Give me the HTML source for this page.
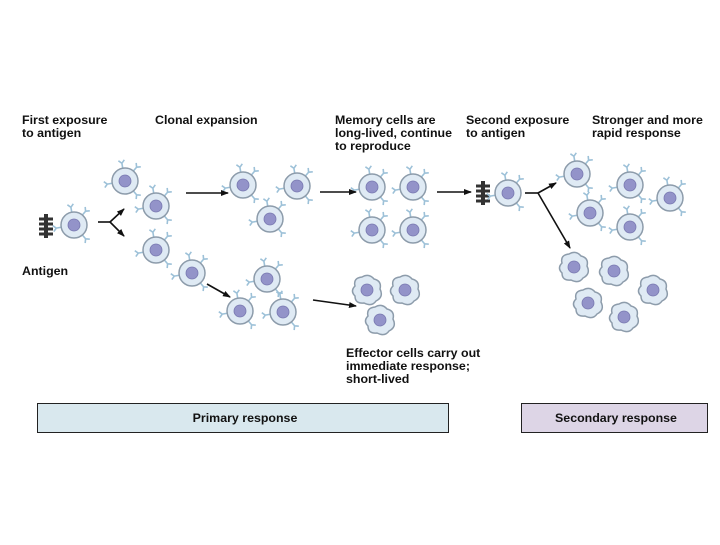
<!DOCTYPE html><html><head><style>body{margin:0;background:#fff}svg text{font-family:"Liberation Sans",sans-serif;font-weight:bold;font-size:12.4px;fill:#111}</style></head><body>
<svg width="720" height="540" xmlns="http://www.w3.org/2000/svg">
<defs>
<g id="y"><path d="M0,0 L0,-5 M0,-5 L-3,-8 M0,-5 L3,-8" stroke="#9dc1d8" stroke-width="1.6" fill="none"/></g>
<g id="c">
<use href="#y" transform="rotate(40) translate(0,-13)"/><use href="#y" transform="rotate(140) translate(0,-13)"/><use href="#y" transform="rotate(260) translate(0,-13)"/><use href="#y" transform="rotate(-10) translate(0,-13)"/>
<circle r="13" fill="#dfeaf4" stroke="#8d9cab" stroke-width="1.5"/><circle r="6" fill="#9393c9" stroke="#7878b0" stroke-width="0.8"/></g>
<g id="e"><path d="M-12,-4 Q-14,-12 -5,-13 Q2,-17 7,-11 Q15,-9 13,-1 Q17,7 9,11 Q5,17 -3,13 Q-12,14 -12,6 Q-17,1 -12,-4Z" fill="#dfeaf4" stroke="#8d9cab" stroke-width="1.5"/><circle r="6" fill="#9393c9" stroke="#7878b0" stroke-width="0.8"/></g>
<g id="a"><rect x="-2" y="-12" width="4" height="24" fill="#333"/><path d="M-7,-7h14M-7,-2h14M-7,3h14M-7,8h14" stroke="#333" stroke-width="3"/></g>
<marker id="ar" markerWidth="8" markerHeight="8" refX="7" refY="4" orient="auto" markerUnits="userSpaceOnUse"><path d="M0,1 L8,4 L0,7Z" fill="#111"/></marker>
</defs>
<text x="22" y="124">First exposure</text><text x="22" y="137">to antigen</text>
<text x="155" y="124">Clonal expansion</text>
<text x="335" y="124">Memory cells are</text><text x="335" y="137">long-lived, continue</text><text x="335" y="150">to reproduce</text>
<text x="466" y="124">Second exposure</text><text x="466" y="137">to antigen</text>
<text x="592" y="124">Stronger and more</text><text x="592" y="137">rapid response</text>
<text x="22" y="275">Antigen</text>
<text x="346" y="357">Effector cells carry out</text><text x="346" y="370">immediate response;</text><text x="346" y="383">short-lived</text>
<use href="#a" x="46" y="226"/>
<use href="#c" x="74" y="225"/>
<use href="#c" x="125" y="181"/><use href="#c" x="156" y="206"/><use href="#c" x="156" y="250"/><use href="#c" x="192" y="273"/>
<use href="#c" x="243" y="185"/><use href="#c" x="297" y="186"/><use href="#c" x="270" y="219"/>
<use href="#c" x="267" y="279"/><use href="#c" x="240" y="311"/><use href="#c" x="283" y="312"/>
<use href="#c" x="372" y="187"/><use href="#c" x="413" y="187"/><use href="#c" x="372" y="230"/><use href="#c" x="413" y="230"/>
<use href="#e" x="367" y="290"/><use href="#e" x="405" y="290"/><use href="#e" x="380" y="320"/>
<use href="#a" x="483" y="193"/><use href="#c" x="508" y="193"/>
<use href="#c" x="577" y="174"/><use href="#c" x="630" y="185"/><use href="#c" x="670" y="198"/><use href="#c" x="590" y="213"/><use href="#c" x="630" y="227"/>
<use href="#e" x="574" y="267"/><use href="#e" x="614" y="271"/><use href="#e" x="653" y="290"/><use href="#e" x="588" y="303"/><use href="#e" x="624" y="317"/>
<g stroke="#111" stroke-width="1.6" fill="none">
<path d="M98,222 H110"/><path d="M110,222 L124,209" marker-end="url(#ar)"/><path d="M110,222 L124,236" marker-end="url(#ar)"/>
<path d="M186,193 H228" marker-end="url(#ar)"/>
<path d="M320,192 H356" marker-end="url(#ar)"/>
<path d="M437,192 H471" marker-end="url(#ar)"/>
<path d="M525,193 H538"/><path d="M538,193 L556,183" marker-end="url(#ar)"/><path d="M538,193 L570,248" marker-end="url(#ar)"/>
<path d="M207,284 L230,297" marker-end="url(#ar)"/>
<path d="M313,300 L356,306" marker-end="url(#ar)"/>
</g>
<rect x="37.5" y="403.5" width="411" height="29" fill="#d9e8ee" stroke="#222"/>
<text x="245" y="422" text-anchor="middle">Primary response</text>
<rect x="521.5" y="403.5" width="186" height="29" fill="#ddd5e6" stroke="#222"/>
<text x="616" y="422" text-anchor="middle">Secondary response</text>
</svg></body></html>
